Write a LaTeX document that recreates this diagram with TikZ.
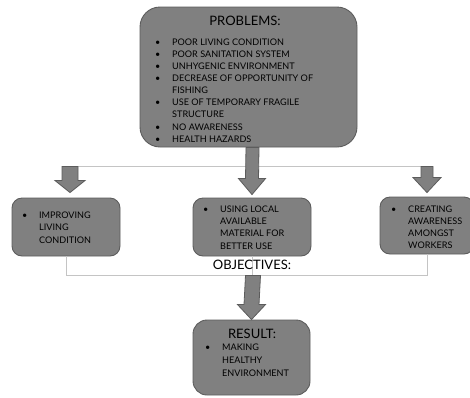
\documentclass[tikz,border=0pt]{standalone}
\usepackage{fontspec}
\setmainfont{Lato}
\usetikzlibrary{calc}
\definecolor{boxfill}{HTML}{808080}
\definecolor{boxline}{HTML}{5C5C5C}
\definecolor{connline}{HTML}{C4C4C4}
\newcommand\fatarrow[5]{% #1 start, #2 tip, #3 shaft half, #4 head half, #5 head length
  \draw[arr] ($(#1)+(-#3,0)$) -- ($(#2)+(-#3,-#5)$) -- ($(#2)+(-#4,-#5)$) -- (#2)
    -- ($(#2)+(#4,-#5)$) -- ($(#2)+(#3,-#5)$) -- ($(#1)+(#3,0)$) -- cycle;}
\tikzset{
  box/.style={draw=boxline, fill=boxfill, line width=0.9pt, inner sep=0pt},
  arr/.style={draw=boxline, fill=boxfill, line width=0.8pt, line join=miter},
  conn/.style={draw=connline, line width=0.9pt},
  lst/.style={inner sep=0pt, anchor=base west, text=black, font=\fontsize{9.1}{#1}\selectfont},
  ttl/.style={inner sep=0pt, text=black, font=\fontsize{13}{15}\selectfont},
}
\begin{document}
\begin{tikzpicture}[x=1pt,y=-1pt]
\useasboundingbox (0,0) rectangle (470,397);
% boxes
\node[box, rounded corners=20pt, minimum width=217pt, minimum height=140pt] (top) at (248.5,77) {};
\node[box, rounded corners=10pt, minimum width=108pt, minimum height=58pt] (lbox) at (66,227) {};
\node[box, rounded corners=10pt, minimum width=118pt, minimum height=58pt] (mbox) at (252,227) {};
\node[box, rounded corners=10pt, minimum width=94pt, minimum height=57pt] (rbox) at (427,225.5) {};
\node[box, rounded corners=14pt, minimum width=117pt, minimum height=75pt] (res) at (251.5,357.5) {};
% connectors
\coordinate (la) at ($(lbox.north)+(4,-31)$);
\coordinate (ra) at ($(rbox.north)+(0,-30)$);
\draw[conn] (la) -- (ra);
\coordinate (jn) at ($(mbox.south)+(0,19)$);
\draw[conn] (lbox.south) |- (jn) -| (rbox.south);
\draw[conn] (mbox.south) -- (jn);
% arrows
\coordinate (ct) at ($(top.south)+(4,0)$);
\coordinate (ctip) at ($(mbox.north)+(0,-3)$);
\fatarrow{ct}{ctip}{6.5}{13.5}{16}
\coordinate (ltip) at ($(lbox.north)+(4,-5)$);
\fatarrow{la}{ltip}{8}{15}{12}
\coordinate (rtip) at ($(rbox.north)+(0,-4)$);
\fatarrow{ra}{rtip}{6}{14}{15}
\coordinate (btip) at (res.north);
\coordinate (bst) at ($(jn)+(1,0)$);
\fatarrow{bst}{btip}{7.5}{14}{15}
% texts
\node[ttl] (ptitle) at (245,21) {PROBLEMS:};
\node[lst=12.1] (plist) at (155,45.3) {\begin{tabular}[t]{@{}p{17pt}@{}l@{}}
\textbullet & POOR LIVING CONDITION\\
\textbullet & POOR SANITATION SYSTEM\\
\textbullet & UNHYGENIC ENVIRONMENT\\
\textbullet & DECREASE OF OPPORTUNITY OF\\
 & FISHING\\
\textbullet & USE OF TEMPORARY FRAGILE\\
 & STRUCTURE\\
\textbullet & NO AWARENESS\\
\textbullet & HEALTH HAZARDS
\end{tabular}};
\node[lst=12.5] (ltext) at (22,218.3) {\begin{tabular}[t]{@{}p{17pt}@{}l@{}}
\textbullet & IMPROVING\\
 & LIVING\\
 & CONDITION
\end{tabular}};
\node[lst=12.3] (mtext) at (203,212.3) {\begin{tabular}[t]{@{}p{17pt}@{}l@{}}
\textbullet & USING LOCAL\\
 & AVAILABLE\\
 & MATERIAL FOR\\
 & BETTER USE
\end{tabular}};
\node[lst=12.1] (rtext) at (391,212.3) {\begin{tabular}[t]{@{}p{17pt}@{}l@{}}
\textbullet & CREATING\\
 & AWARENESS\\
 & AMONGST\\
 & WORKERS
\end{tabular}};
\node[ttl] (otitle) at (252,265) {OBJECTIVES:};
\node[ttl] (rtitle) at (252,334) {RESULT:};
\node[lst=13] (rtext2) at (205,350.3) {\begin{tabular}[t]{@{}p{17pt}@{}l@{}}
\textbullet & MAKING\\
 & HEALTHY\\
 & ENVIRONMENT
\end{tabular}};
\end{tikzpicture}
\end{document}
